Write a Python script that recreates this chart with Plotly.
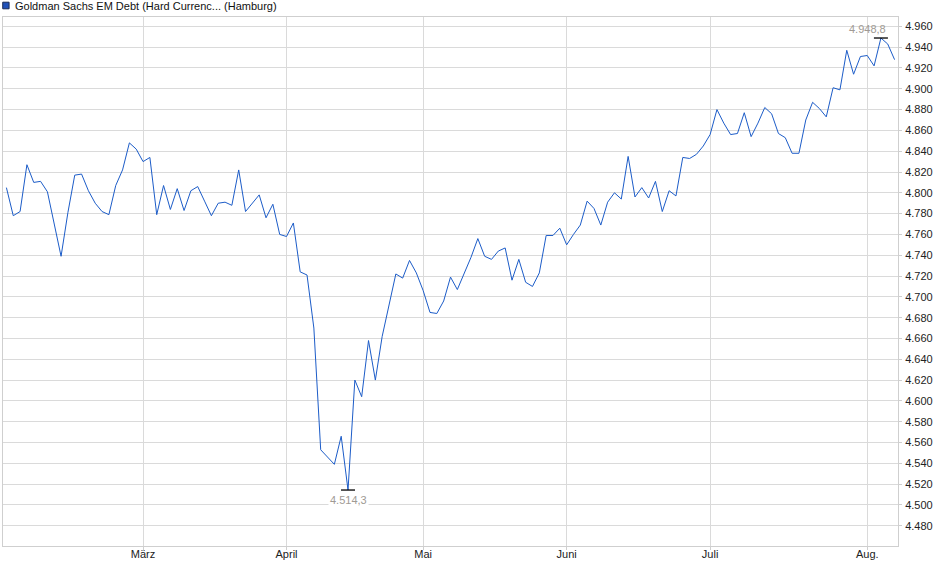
import pandas as pd
import plotly.graph_objects as go

# trading days at Hamburg, Feb 3 - Aug 7 2025
holidays = ["2025-04-18", "2025-04-21", "2025-05-01"]
days = pd.bdate_range("2025-02-03", "2025-08-07")
days = [d.strftime("%Y-%m-%d") for d in days if d.strftime("%Y-%m-%d") not in holidays]

prices = [
    4805, 4778, 4782, 4827, 4810, 4811, 4801, 4769, 4739, 4781,
    4817, 4818, 4802, 4790, 4782, 4779, 4807, 4822, 4848, 4842,
    4830, 4834, 4779, 4807, 4784, 4804, 4783, 4802, 4806, 4792,
    4778, 4790, 4791, 4788, 4822, 4782, 4790, 4798, 4776, 4789,
    4760, 4758, 4771, 4724, 4721, 4670, 4553, 4546, 4539, 4566,
    4514.3, 4620, 4604, 4658, 4620, 4662, 4691, 4722, 4718, 4735,
    4723, 4706, 4685, 4684, 4696, 4719, 4707, 4722, 4738, 4756,
    4739, 4736, 4744, 4747, 4716, 4736, 4714, 4710, 4723, 4759,
    4759, 4766, 4750, 4760, 4769, 4792, 4785, 4769, 4791, 4800,
    4794, 4835, 4796, 4805, 4795, 4811, 4782, 4802, 4797, 4834,
    4833, 4837, 4845, 4856, 4880, 4867, 4856, 4857, 4877, 4854,
    4867, 4882, 4876, 4857, 4853, 4838, 4838, 4870, 4887, 4881,
    4873, 4901, 4899, 4937, 4914, 4931, 4932, 4922, 4948.8, 4943,
    4928,
]

month_days = ["2025-03-03", "2025-04-01", "2025-05-02", "2025-06-02", "2025-07-01", "2025-08-01"]
month_names = ["März", "April", "Mai", "Juni", "Juli", "Aug."]
title = "Goldman Sachs EM Debt (Hard Currenc... (Hamburg)"


def de(v):
    # German number format 4.514,3
    return f"{v:,.1f}".replace(",", "X").replace(".", ",").replace("X", ".")


i_min = prices.index(min(prices))
i_max = prices.index(max(prices))

font = "Liberation Sans, Arial, sans-serif"
grid = "#dadada"

fig = go.Figure()
fig.add_trace(go.Scatter(x=days, y=prices, mode="lines",
                         line=dict(color="#1c5cc8", width=1), hoverinfo="skip"))
fig.add_trace(go.Scatter(x=[days[i_min], days[i_max]], y=[prices[i_min], prices[i_max]],
                         mode="markers",
                         marker=dict(symbol="line-ew", size=10, line=dict(color="#000", width=1.3)),
                         hoverinfo="skip"))

fig.add_annotation(x=days[i_min], y=prices[i_min], text=de(prices[i_min]), showarrow=False,
                   yanchor="top", yshift=-2, bgcolor="white",
                   font=dict(family=font, size=11, color="#a09a94"))
fig.add_annotation(x=days[i_max], y=prices[i_max], text=de(prices[i_max]), showarrow=False,
                   xanchor="right", xshift=7, yanchor="bottom", yshift=1,
                   font=dict(family=font, size=11, color="#a09a94"))

# legend box
fig.add_shape(type="rect", xref="paper", yref="paper",
              x0=-0.0003, x1=0.0068, y0=1.0155, y1=1.028,
              fillcolor="#1f50b8", line=dict(color="#1a2a55", width=1))
fig.add_annotation(xref="paper", yref="paper", x=0.0115, y=1.021, text=title,
                   showarrow=False, xanchor="left", yanchor="middle",
                   font=dict(family=font, size=11, color="#111"))

fig.update_layout(
    width=940, height=579,
    margin=dict(l=3, r=42, t=17, b=33),
    paper_bgcolor="white", plot_bgcolor="white",
    showlegend=False,
    separators=",.",
    font=dict(family=font, size=11, color="#222"),
    xaxis=dict(type="category", range=[-0.5, 130.5], automargin=False,
               tickmode="array", tickvals=month_days, ticktext=month_names,
               showgrid=True, gridcolor=grid, gridwidth=1,
               showline=True, linecolor="#cfcfcf", mirror=True,
               ticks="outside", ticklen=3, tickcolor="#cfcfcf",
               ticklabelstandoff=-5,
               tickfont=dict(size=11, color="#222")),
    yaxis=dict(side="right", range=[4460.5, 4969], tick0=4480, dtick=20, automargin=False,
               tickformat=",d", showgrid=True, gridcolor=grid, gridwidth=1,
               showline=True, linecolor="#cfcfcf", mirror=True,
               ticks="outside", ticklen=3, tickcolor="#cfcfcf",
               ticklabelstandoff=1,
               zeroline=False,
               tickfont=dict(size=11, color="#222")),
)

# the page body has a default 8px margin; drop it so the figure sits at 0,0
fig.write_html("out.html", config={"displayModeBar": False},
               post_script="document.body.style.margin='0';")
